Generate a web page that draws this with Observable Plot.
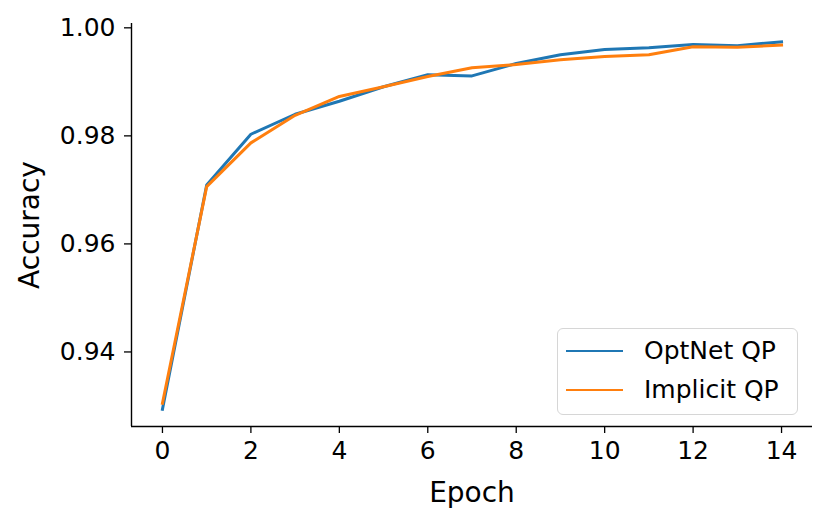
<!DOCTYPE html>
<html>
<head>
<meta charset="utf-8">
<script src="https://cdn.jsdelivr.net/npm/d3@7"></script>
<script src="https://cdn.jsdelivr.net/npm/@observablehq/plot@0.6"></script>
<style>
  html, body { margin: 0; padding: 0; background: #fff; }
  #wrap { position: relative; width: 829px; height: 527px; font-family: "DejaVu Sans", sans-serif; }
  .legend { position: absolute; left: 557px; top: 328px; width: 241px; height: 87px; box-sizing: border-box;
            border: 1.3px solid #d6d6d6; border-radius: 6px; background: rgba(255,255,255,0.8); }
  .item { position: absolute; left: 8px; height: 30px; display: flex; align-items: center; }
  .swatch { width: 57px; height: 0; border-top: 2.8px solid; margin-right: 21px; }
  .lab { font-size: 25px; color: #000; white-space: nowrap; line-height: 30px; }
</style>
</head>
<body>
<div id="wrap"></div>
<script>
const epochs = [0, 1, 2, 3, 4, 5, 6, 7, 8, 9, 10, 11, 12, 13, 14];
const optnetQP = [0.9294, 0.9709, 0.9803, 0.9840, 0.9864, 0.9891, 0.9913, 0.9911, 0.9934, 0.9950, 0.9960, 0.9963, 0.9969, 0.9967, 0.9974];
const implicitQP = [0.9305, 0.9706, 0.9787, 0.9838, 0.9873, 0.9891, 0.9910, 0.9926, 0.9932, 0.9941, 0.9947, 0.9950, 0.9965, 0.9964, 0.9968];
const seriesNames = ["OptNet QP", "Implicit QP"];
const seriesColors = ["#1f77b4", "#ff7f0e"];
const xTicks = [0, 2, 4, 6, 8, 10, 12, 14];
const yTicks = [0.94, 0.96, 0.98, 1.00];
const xDomain = [-0.7, 14.7];
const yDomain = [0.9262, 1.0008];

const rows = [];
[optnetQP, implicitQP].forEach((vals, s) => {
  epochs.forEach((e, i) => rows.push({ epoch: e, acc: vals[i], series: seriesNames[s] }));
});

const chart = Plot.plot({
  width: 829,
  height: 527,
  marginLeft: 131,
  marginRight: 17,
  marginTop: 23,
  marginBottom: 101,
  style: { fontFamily: "DejaVu Sans", fontSize: "25px", color: "#000", background: "#fff", overflow: "visible" },
  x: { domain: xDomain },
  y: { domain: yDomain },
  color: { domain: seriesNames, range: seriesColors },
  marks: [
    Plot.axisX({ ticks: xTicks, tickSize: 7, tickPadding: 8, fontSize: 25, strokeWidth: 1.3, stroke: "#000", label: null }),
    Plot.axisY({ ticks: yTicks, tickSize: 7, tickPadding: 9, fontSize: 25, strokeWidth: 1.3, stroke: "#000", tickFormat: d3.format(".2f"), label: null }),
    Plot.ruleX([xDomain[0]], { y1: yDomain[0], y2: yDomain[1], stroke: "#000", strokeWidth: 1.4 }),
    Plot.ruleY([yDomain[0]], { x1: xDomain[0], x2: xDomain[1], stroke: "#000", strokeWidth: 1.4 }),
    Plot.line(rows, { x: "epoch", y: "acc", z: "series", stroke: "series", strokeWidth: 3, strokeLinejoin: "round", strokeLinecap: "square" }),
    Plot.text(["Epoch"], { frameAnchor: "bottom", dy: 67, lineAnchor: "middle", textAnchor: "middle", fontSize: 28, fill: "#000" }),
    Plot.text(["Accuracy"], { frameAnchor: "left", dx: -101, lineAnchor: "middle", textAnchor: "middle", rotate: -90, fontSize: 28, fill: "#000" })
  ]
});

const wrap = document.getElementById("wrap");
wrap.appendChild(chart);

const legend = document.createElement("div");
legend.className = "legend";
seriesNames.forEach((name, i) => {
  const item = document.createElement("div");
  item.className = "item";
  item.style.top = (7 + i * 39) + "px";
  const sw = document.createElement("div");
  sw.className = "swatch";
  sw.style.borderTopColor = seriesColors[i];
  const lab = document.createElement("span");
  lab.className = "lab";
  lab.textContent = name;
  item.appendChild(sw);
  item.appendChild(lab);
  legend.appendChild(item);
});
wrap.appendChild(legend);
</script>
</body>
</html>
